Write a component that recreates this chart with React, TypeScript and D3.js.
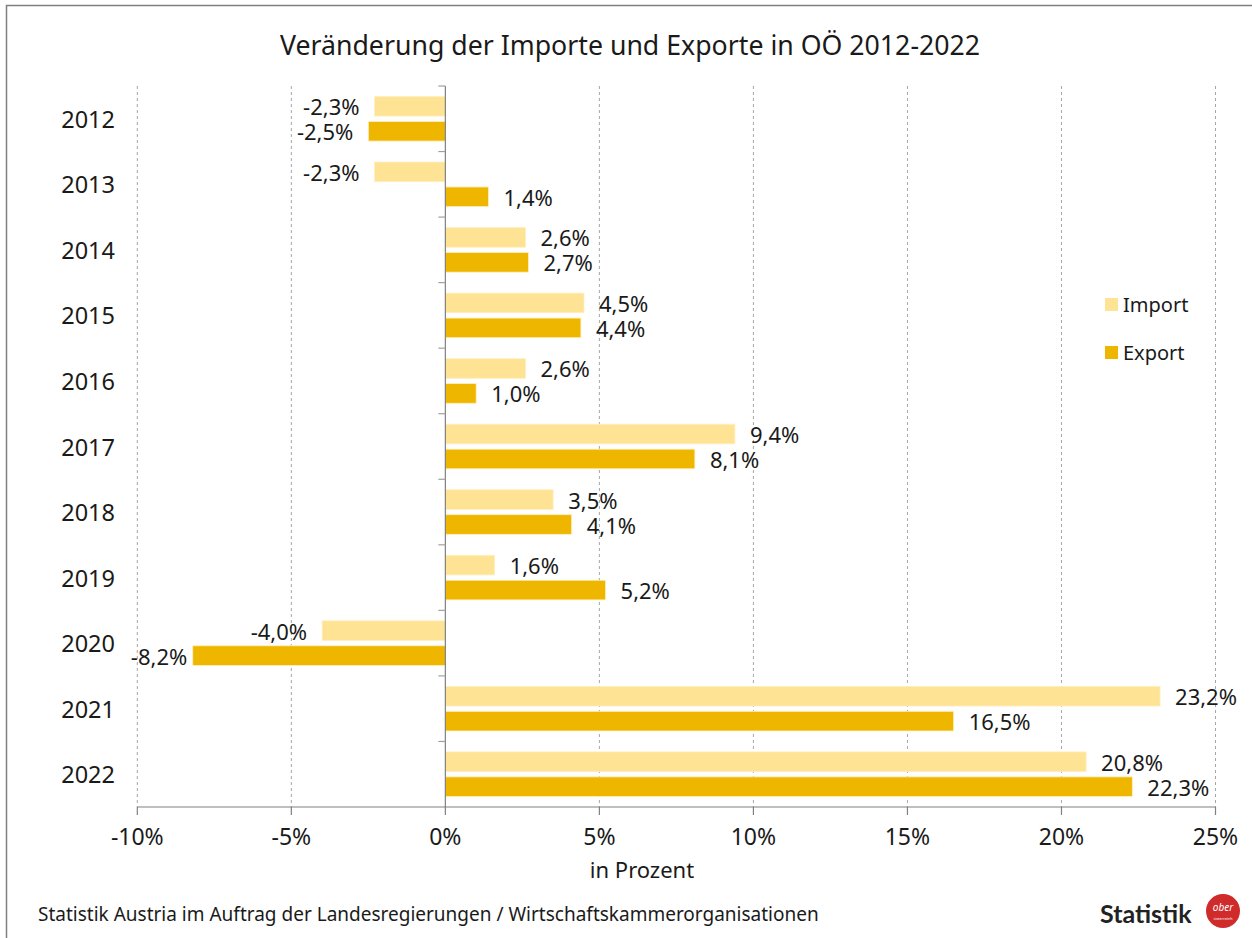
import React from "react";
import * as d3 from "d3";

const years = ["2012", "2013", "2014", "2015", "2016", "2017", "2018", "2019", "2020", "2021", "2022"];
const importVals = [-2.3, -2.3, 2.6, 4.5, 2.6, 9.4, 3.5, 1.6, -4.0, 23.2, 20.8];
const exportVals = [-2.5, 1.4, 2.7, 4.4, 1.0, 8.1, 4.1, 5.2, -8.2, 16.5, 22.3];
const xTicks = [-10, -5, 0, 5, 10, 15, 20, 25];
const seriesNames = ["Import", "Export"];
const seriesColors = ["#FFE394", "#EFB600"];

const W = 1252;
const H = 938;
const FONT = "'Noto Sans', 'Open Sans', sans-serif";
const TXT = "#1a1a1a";

export default function App() {
  const x = d3.scaleLinear().domain([-10, 25]).range([137.3, 1215.5]);
  const y = d3.scaleBand<string>().domain(years).range([86, 807]).padding(0);
  const sub = d3
    .scaleBand<string>()
    .domain(seriesNames)
    .range([0, y.bandwidth()])
    .paddingInner(0.212)
    .paddingOuter(0.42);

  const fmt = (v: number) => v.toFixed(1).replace(".", ",") + "%";
  const labelMinEnd = x(-10) + 50;

  const rows = years.map((yr, i) => ({ yr, vals: [importVals[i], exportVals[i]] }));

  return (
    <svg
      width={W}
      height={H}
      style={{ position: "absolute", left: 0, top: 0, background: "#fff" }}
      fontFamily={FONT}
    >
      <rect x={0} y={0} width={W} height={H} fill="#fff" />
      <rect x={6.5} y={5.5} width={W + 10} height={H + 10} fill="none" stroke="#7f7f7f" strokeWidth={1.5} />

      <text x={630} y={44} fontSize={26.7} textAnchor="middle" dominantBaseline="central" fill={TXT}>
        Veränderung der Importe und Exporte in OÖ 2012-2022
      </text>

      {/* gridlines */}
      {xTicks.filter((t) => t !== 0).map((t) => (
        <line
          key={"g" + t}
          x1={x(t)}
          x2={x(t)}
          y1={86}
          y2={807}
          stroke="#a6a6a6"
          strokeWidth={1}
          strokeDasharray="3,3"
        />
      ))}

      {/* bars */}
      {rows.map((r) =>
        r.vals.map((v, si) => {
          const by = (y(r.yr) as number) + (sub(seriesNames[si]) as number);
          const x0 = x(Math.min(0, v));
          const w = Math.abs(x(v) - x(0));
          return (
            <rect
              key={r.yr + si}
              x={x0}
              y={by}
              width={w}
              height={sub.bandwidth()}
              fill={seriesColors[si]}
              stroke="#FFEFC0"
              strokeWidth={0.8}
            />
          );
        })
      )}

      {/* value labels */}
      {rows.map((r) =>
        r.vals.map((v, si) => {
          const cy = (y(r.yr) as number) + (sub(seriesNames[si]) as number) + sub.bandwidth() / 2;
          const pos = v >= 0;
          const lx = pos ? x(v) + 15 : Math.max(x(v) - 15, labelMinEnd);
          return (
            <text
              key={"l" + r.yr + si}
              x={lx}
              y={cy}
              fontSize={22}
              textAnchor={pos ? "start" : "end"}
              dominantBaseline="central"
              fill={TXT}
            >
              {fmt(v)}
            </text>
          );
        })
      )}

      {/* zero axis */}
      <line x1={x(0)} x2={x(0)} y1={86} y2={807} stroke="#808080" strokeWidth={1.2} />
      {years.map((yr) => (
        <line
          key={"ct" + yr}
          x1={x(0) - 7}
          x2={x(0)}
          y1={y(yr) as number}
          y2={y(yr) as number}
          stroke="#a0a0a0"
          strokeWidth={1.2}
        />
      ))}

      {/* bottom axis */}
      <line x1={x(-10)} x2={x(25)} y1={807} y2={807} stroke="#808080" strokeWidth={1.2} />
      {xTicks.map((t) => (
        <g key={"xt" + t}>
          <line x1={x(t)} x2={x(t)} y1={807} y2={815} stroke="#808080" strokeWidth={1.2} />
          <text x={x(t)} y={836} fontSize={23} textAnchor="middle" dominantBaseline="central" fill={TXT}>
            {t + "%"}
          </text>
        </g>
      ))}
      <text x={642} y={869} fontSize={22} textAnchor="middle" dominantBaseline="central" fill={TXT}>
        in Prozent
      </text>

      {/* category labels */}
      {years.map((yr) => (
        <text
          key={"yl" + yr}
          x={115}
          y={(y(yr) as number) + y.bandwidth() / 2}
          fontSize={23.5}
          textAnchor="end"
          dominantBaseline="central"
          fill={TXT}
        >
          {yr}
        </text>
      ))}

      {/* legend */}
      {seriesNames.map((n, i) => (
        <g key={"lg" + n} transform={`translate(1105, ${298 + i * 48})`}>
          <rect x={0} y={0} width={13} height={13} fill={seriesColors[i]} />
          <text x={18} y={6.5} fontSize={20} dominantBaseline="central" fill={TXT}>
            {n}
          </text>
        </g>
      ))}

      {/* footer */}
      <text x={38} y={914} fontSize={19} dominantBaseline="central" fill={TXT}>
        Statistik Austria im Auftrag der Landesregierungen / Wirtschaftskammerorganisationen
      </text>
      <text x={1100} y={913} fontSize={25} fontWeight={700} fontFamily="Lato, sans-serif" dominantBaseline="central" fill="#222">
        Statistik
      </text>
      <circle cx={1223} cy={911} r={17} fill="#D02B2B" />
      <text x={1223} y={907} fontSize={10} fontStyle="italic" textAnchor="middle" dominantBaseline="central" fill="#fff">
        ober
      </text>
      <text x={1223} y={918} fontSize={4} textAnchor="middle" dominantBaseline="central" fill="#fff">
        österreich
      </text>
    </svg>
  );
}
